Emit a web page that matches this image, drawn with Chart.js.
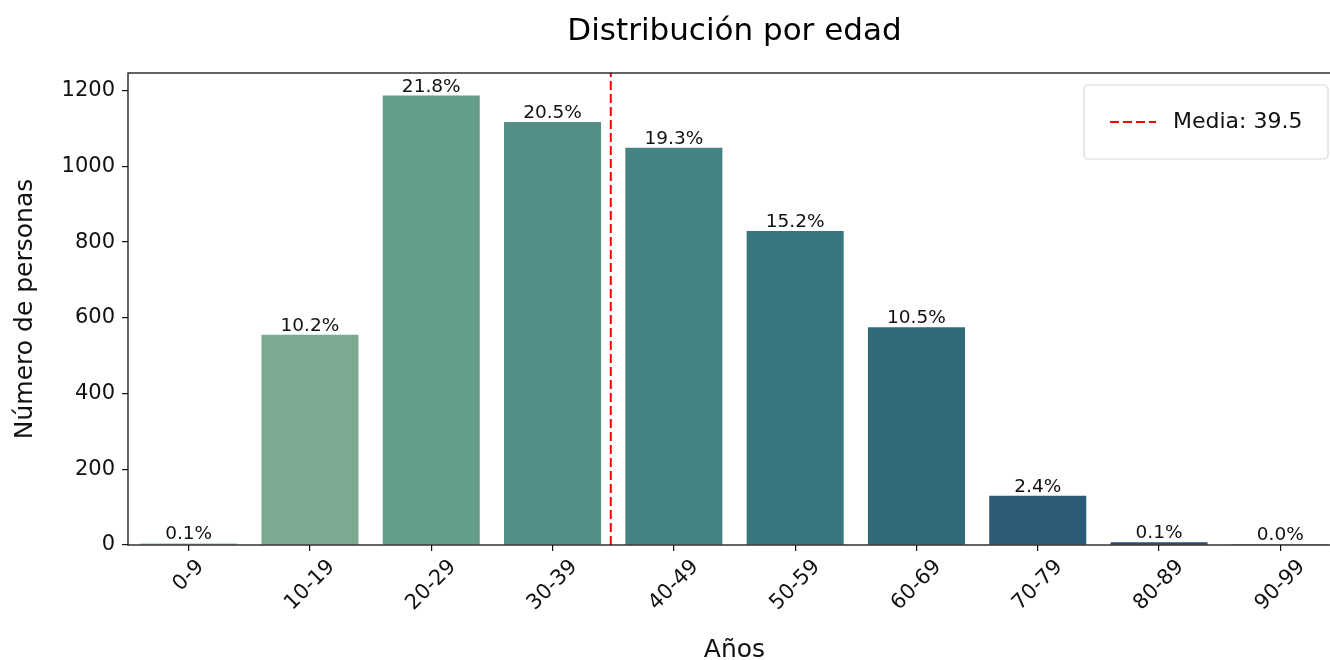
<!DOCTYPE html>
<html>
<head>
<meta charset="utf-8">
<script src="https://cdn.jsdelivr.net/npm/chart.js@4/dist/chart.umd.min.js"></script>
<style>
  html, body { margin: 0; padding: 0; background: #fff; overflow: hidden; }
  #wrap { width: 1341px; height: 660px; }
</style>
</head>
<body>
<div id="wrap"><canvas id="c" width="1341" height="660"></canvas></div>
<script>
const categories = ['0-9', '10-19', '20-29', '30-39', '40-49', '50-59', '60-69', '70-79', '80-89', '90-99'];
const counts = [4, 555, 1187, 1117, 1049, 829, 575, 130, 7, 2];
const percentLabels = ['0.1%', '10.2%', '21.8%', '20.5%', '19.3%', '15.2%', '10.5%', '2.4%', '0.1%', '0.0%'];
const barColors = ['#8aba95', '#7baa91', '#659d8b', '#538f87', '#458282', '#39767e', '#2f697a', '#2c5b77', '#2c4d73', '#2c3f6e'];
const meanAge = 39.5;
const meanIndex = 3.48;          // position of the mean on the category axis
const yMax = 1246.5;
const yStep = 200;

const FONT = "'DejaVu Sans', sans-serif";
const TEXT = '#111';

const decor = {
  id: 'decor',
  afterDatasetsDraw(chart) {
    const ctx = chart.ctx;
    const a = chart.chartArea;
    const xs = chart.scales.x;
    const meta = chart.getDatasetMeta(0);
    ctx.save();
    // percentage labels
    ctx.fillStyle = TEXT;
    ctx.font = '18.5px ' + FONT;
    ctx.textAlign = 'center';
    ctx.textBaseline = 'alphabetic';
    meta.data.forEach((bar, i) => {
      ctx.fillText(percentLabels[i], bar.x, bar.y - 4);
    });
    // mean line
    const mx = xs.getPixelForValue(meanIndex);
    ctx.strokeStyle = '#ff0000';
    ctx.lineWidth = 2;
    ctx.setLineDash([9, 4]);
    ctx.beginPath();
    ctx.moveTo(mx, a.bottom);
    ctx.lineTo(mx, a.top);
    ctx.stroke();
    ctx.setLineDash([]);
    // frame
    ctx.strokeStyle = '#111';
    ctx.lineWidth = 1.3;
    ctx.strokeRect(a.left, a.top, a.right - a.left, a.bottom - a.top);
    // legend
    const lx = a.right - 257, ly = a.top + 12, lw = 244, lh = 74;
    ctx.beginPath();
    ctx.roundRect(lx, ly, lw, lh, 4);
    ctx.fillStyle = 'rgba(255,255,255,0.9)';
    ctx.fill();
    ctx.strokeStyle = '#d9d9d9';
    ctx.lineWidth = 1.2;
    ctx.stroke();
    const cy = ly + lh / 2;
    ctx.strokeStyle = '#ff0000';
    ctx.lineWidth = 2;
    ctx.setLineDash([9, 4]);
    ctx.beginPath();
    ctx.moveTo(lx + 26, cy);
    ctx.lineTo(lx + 72, cy);
    ctx.stroke();
    ctx.setLineDash([]);
    ctx.fillStyle = TEXT;
    ctx.font = '22px ' + FONT;
    ctx.textAlign = 'left';
    ctx.textBaseline = 'middle';
    ctx.fillText('Media: ' + meanAge.toFixed(1), lx + 89, cy);
    // x tick labels rotated 45 degrees, bounding box centred under tick
    ctx.font = '21px ' + FONT;
    ctx.textAlign = 'center';
    ctx.textBaseline = 'middle';
    categories.forEach((c, i) => {
      const x = xs.getPixelForValue(i);
      const w = ctx.measureText(c).width;
      const h = 16;
      const bb = (w + h) * Math.SQRT1_2;
      const top = a.bottom + 13;
      ctx.save();
      ctx.translate(x, top + bb / 2);
      ctx.rotate(-Math.PI / 4);
      ctx.fillText(c, 0, 0);
      ctx.restore();
    });
    // title
    const cx = (a.left + a.right) / 2;
    ctx.font = '31px ' + FONT;
    ctx.textBaseline = 'middle';
    ctx.fillStyle = '#000';
    ctx.fillText('Distribución por edad', cx, 32);
    // axis titles
    ctx.font = '25px ' + FONT;
    ctx.fillStyle = TEXT;
    ctx.textBaseline = 'alphabetic';
    ctx.fillText('Años', cx, 657);
    ctx.save();
    ctx.translate(32, (a.top + a.bottom) / 2);
    ctx.rotate(-Math.PI / 2);
    ctx.fillText('Número de personas', 0, 0);
    ctx.restore();
    ctx.restore();
  }
};

new Chart(document.getElementById('c'), {
  type: 'bar',
  data: {
    labels: categories,
    datasets: [{
      data: counts,
      backgroundColor: barColors,
      borderWidth: 0,
      barPercentage: 0.8,
      categoryPercentage: 1.0
    }]
  },
  options: {
    responsive: false,
    animation: false,
    layout: { padding: { left: 0, right: 0, top: 73, bottom: 0 } },
    plugins: { legend: { display: false }, tooltip: { enabled: false }, title: { display: false } },
    scales: {
      x: {
        offset: true,
        border: { display: false },
        grid: { display: true, drawOnChartArea: false, drawTicks: true, tickLength: 6, color: '#111', lineWidth: 1.2, offset: false },
        ticks: { display: false },
        afterFit(scale) { scale.height = 115; }
      },
      y: {
        min: 0,
        max: yMax,
        border: { display: false },
        grid: { display: true, drawOnChartArea: false, drawTicks: true, tickLength: 6, color: '#111', lineWidth: 1.2 },
        ticks: { stepSize: yStep, includeBounds: false, padding: 7, color: TEXT, font: { family: FONT, size: 21 }, callback: (v) => String(v) },
        afterFit(scale) { scale.width = 128; }
      }
    }
  },
  plugins: [decor]
});
</script>
</body>
</html>
